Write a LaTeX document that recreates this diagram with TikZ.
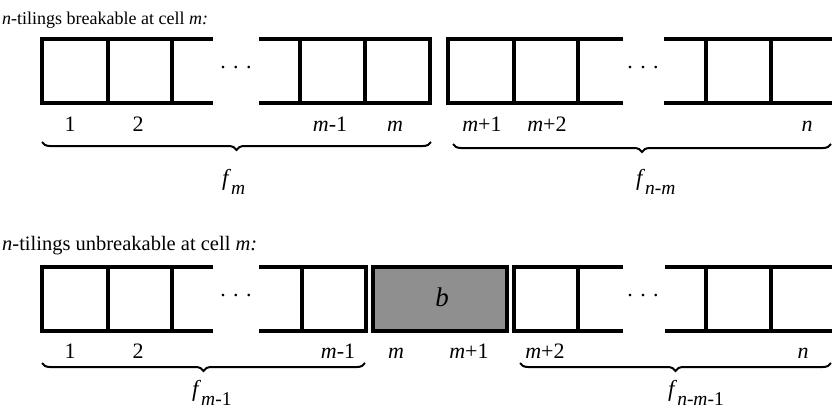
\documentclass[tikz,border=0pt]{standalone}
\usepackage{fontspec}
\setmainfont{Liberation Serif}
\usetikzlibrary{decorations.pathreplacing}
\newcommand\fsubx[1]{\raisebox{-9pt}{\fontsize{19.5}{20}\selectfont #1}}
\begin{document}
\begin{tikzpicture}[x=1pt,y=-1pt,
  cell/.style={line width=3.2pt,line join=miter},
  shaded/.style={line width=3.2pt,fill=black!44},
  lbl/.style={font=\fontsize{22}{24}\selectfont,inner sep=0pt,anchor=base},
  ttl/.style={font=\fontsize{20.5}{22}\selectfont,inner sep=0pt,anchor=base west},
  dotsn/.style={font=\fontsize{22}{22}\selectfont,inner sep=0pt},
  brc/.style={decorate,decoration={brace,mirror,amplitude=8pt},line width=2pt},
  flbl/.style={font=\fontsize{23}{24}\selectfont,inner sep=0pt,anchor=base west}]
\useasboundingbox (0,0) rectangle (832,408);
\fill[white] (0,0) rectangle (832,408);
% ---------- top row ----------
\node[ttl,font=\fontsize{18}{22}\selectfont] (t1) at (2,24) {\textit{n}-tilings breakable at cell \textit{m:}};
\draw[cell] (213,39) -- (42,39) -- (42,103) -- (213,103);
\draw[cell] (108,39) -- (108,103) (172,39) -- (172,103);
\draw[cell] (259,39) -- (430,39) -- (430,103) -- (259,103);
\draw[cell] (300,39) -- (300,103) (365,39) -- (365,103);
\draw[cell] (623,39) -- (448,39) -- (448,103) -- (623,103);
\draw[cell] (514,39) -- (514,103) (578,39) -- (578,103);
\draw[cell] (664,39) -- (832,39) (664,103) -- (832,103);
\draw[cell] (706,39) -- (706,103) (771,39) -- (771,103);
\node[dotsn] (d1) at (236,68) {.\,\,.\,\,.};
\node[dotsn] (d2) at (643,68) {.\,\,.\,\,.};
\node[lbl] (a1) at (70,131) {1};
\node[lbl] (a2) at (138,131) {2};
\node[lbl] (a3) at (330,131) {\textit{m}-1};
\node[lbl] (a4) at (395,131) {\textit{m}};
\node[lbl] (a5) at (482,131) {\textit{m}+1};
\node[lbl] (a6) at (547,131) {\textit{m}+2};
\node[lbl] (a7) at (807,131) {\textit{n}};
\coordinate (b1s) at (42,142);
\coordinate (b1e) at (431,142);
\coordinate (b2s) at (453,144);
\coordinate (b2e) at (831,144);
\draw[brc] (b1s) -- (b1e);
\draw[brc] (b2s) -- (b2e);
\node[flbl] (f1) at (222,185) {\textit{f}\fsubx{\textit{m}}};
\node[flbl] (f2) at (636,185) {\textit{f}\fsubx{\textit{n-m}}};
% ---------- bottom row ----------
\node[ttl] (t2) at (2,250) {\textit{n}-tilings unbreakable at cell \textit{m:}};
\draw[cell] (213,267) -- (42,267) -- (42,331) -- (213,331);
\draw[cell] (108,267) -- (108,331) (172,267) -- (172,331);
\draw[cell] (259,267) -- (366,267) -- (366,331) -- (259,331);
\draw[cell] (302,267) -- (302,331);
\draw[shaded] (373,267) rectangle (507,331);
\node[dotsn,font=\fontsize{27}{28}\selectfont] (bb) at (442,297) {\textit{b}};
\draw[cell] (623,267) -- (514,267) -- (514,331) -- (623,331);
\draw[cell] (578,267) -- (578,331);
\draw[cell] (665,267) -- (832,267) (665,331) -- (832,331);
\draw[cell] (706,267) -- (706,331) (771,267) -- (771,331);
\node[dotsn] (d3) at (236,296) {.\,\,.\,\,.};
\node[dotsn] (d4) at (643,296) {.\,\,.\,\,.};
\node[lbl] (c1) at (70,358) {1};
\node[lbl] (c2) at (138,358) {2};
\node[lbl] (c3) at (338,358) {\textit{m}-1};
\node[lbl] (c4) at (396,358) {\textit{m}};
\node[lbl] (c5) at (469,358) {\textit{m}+1};
\node[lbl] (c6) at (545,358) {\textit{m}+2};
\node[lbl] (c7) at (803,358) {\textit{n}};
\coordinate (b3s) at (42,363);
\coordinate (b3e) at (365,363);
\coordinate (b4s) at (520,363);
\coordinate (b4e) at (831,363);
\draw[brc] (b3s) -- (b3e);
\draw[brc] (b4s) -- (b4e);
\node[flbl] (f3) at (192,396) {\textit{f}\fsubx{\textit{m}-1}};
\node[flbl] (f4) at (668,396) {\textit{f}\fsubx{\textit{n-m}-1}};
\end{tikzpicture}
\end{document}
